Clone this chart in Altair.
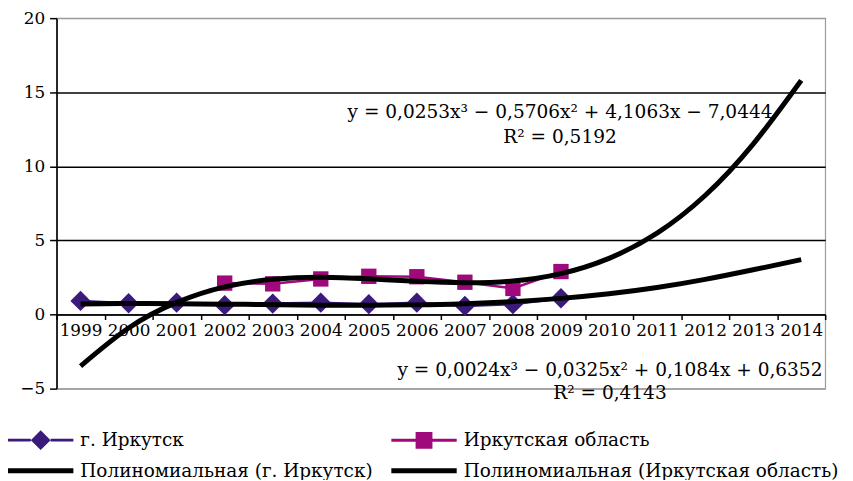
import altair as alt
import pandas as pd

# ---- data ----
trend_years = list(range(1999, 2015))
city_years = list(range(1999, 2010))
city_values = [0.92, 0.76, 0.80, 0.63, 0.74, 0.80, 0.70, 0.80, 0.58, 0.70, 1.10]
oblast_years = list(range(2002, 2010))
oblast_values = [2.12, 2.07, 2.40, 2.58, 2.55, 2.18, 1.76, 2.90]
trend_city = [0.71, 0.74, 0.73, 0.70, 0.67, 0.63, 0.63, 0.65, 0.73, 0.87, 1.09, 1.40, 1.82, 2.37, 3.02, 3.70]
trend_oblast = [-3.48, -0.91, 0.82, 1.87, 2.38, 2.52, 2.41, 2.24, 2.14, 2.26, 2.76, 3.79, 5.49, 8.03, 11.50, 15.80]
# legend order (column-major: first column, then second column)
series_names = ["г. Иркутск", "Полиномиальная (г. Иркутск)",
                "Иркутская область", "Полиномиальная (Иркутская область)"]
y_ticks = [-5, 0, 5, 10, 15, 20]
ann_texts = ["y = 0,0253x³ − 0,5706x² + 4,1063x − 7,0444", "R² = 0,5192",
             "y = 0,0024x³ − 0,0325x² + 0,1084x + 0,6352", "R² = 0,4143"]
ann_x = [2008.98, 2008.98, 2010.02, 2010.02]
ann_y = [13.65, 11.95, -3.75, -5.3]

# ---- styles ----
C_CITY = "#3b1a7c"
C_OBL = "#a0097c"
FONT = "DejaVu Serif"
series_colors = [C_CITY, "black", C_OBL, "black"]
# legend glyphs: unit = sqrt(symbolSize)/2 px; they reach right of the nominal symbol box
series_shapes = [
    "M-1,-0.15H1.3V0.15H-1Z M3.3,-0.15H5.6V0.15H3.3Z M1.3,0L2.3,-1L3.3,0L2.3,1Z",
    "M-1,-0.25H5.6V0.25H-1Z",
    "M-1,-0.15H1.45V0.15H-1Z M3.15,-0.15H5.6V0.15H3.15Z M1.45,-0.85H3.15V0.85H1.45Z",
    "M-1,-0.25H5.6V0.25H-1Z",
]

city_df = pd.DataFrame({"year": city_years, "value": city_values})
obl_df = pd.DataFrame({"year": oblast_years, "value": oblast_values})
tr_city_df = pd.DataFrame({"year": trend_years, "value": trend_city})
tr_obl_df = pd.DataFrame({"year": trend_years, "value": trend_oblast})
ann_df = pd.DataFrame({"year": ann_x, "value": ann_y, "label": ann_texts})
leg_df = pd.DataFrame({"series": series_names})

W, H = 776, 374
xvals = [1998.5 + i for i in range(17)]

X = alt.X("year:Q", scale=alt.Scale(domain=[1998.5, 2014.5], nice=False, zero=False),
          axis=alt.Axis(values=xvals, title=None, grid=False, offset=-H * 5 / 25,
                        labelExpr="datum.value < 2014 ? '' + (datum.value + 0.5) : ''",
                        labelOffset=W / 16 / 2, labelFlush=False, labelOverlap=False,
                        labelFont=FONT, labelFontSize=17, labelColor="black", labelPadding=3,
                        tickSize=5, tickColor="black", tickWidth=1.5,
                        domainColor="black", domainWidth=1.5))
Y = alt.Y("value:Q", scale=alt.Scale(domain=[-5, 20], nice=False, zero=False),
          axis=alt.Axis(values=y_ticks, title=None, grid=True,
                        gridColor={"condition": {"test": "datum.value === 20 || datum.value === -5",
                                                 "value": "#9a9a9a"}, "value": "black"},
                        gridWidth=1.4, labelFont=FONT, labelFontSize=17, labelColor="black",
                        labelPadding=5, tickSize=7, tickColor="black", tickWidth=1.5,
                        domainColor="black", domainWidth=1.6))

city_line = alt.Chart(city_df).mark_line(color=C_CITY, strokeWidth=2.5).encode(x=X, y=Y)
obl_line = alt.Chart(obl_df).mark_line(color=C_OBL, strokeWidth=2.5).encode(x=X, y=Y)
city_pts = alt.Chart(city_df).mark_point(shape="diamond", filled=True, color=C_CITY,
                                         size=420, opacity=1).encode(x=X, y=Y)
obl_pts = alt.Chart(obl_df).mark_point(shape="square", filled=True, color=C_OBL,
                                       size=240, opacity=1).encode(x=X, y=Y)
tr_city = alt.Chart(tr_city_df).mark_line(color="black", strokeWidth=5,
                                          interpolate="natural").encode(x=X, y=Y)
tr_obl = alt.Chart(tr_obl_df).mark_line(color="black", strokeWidth=5,
                                        interpolate="natural").encode(x=X, y=Y)
ann = alt.Chart(ann_df).mark_text(font=FONT, fontSize=18.7, color="black",
                                  align="center", baseline="middle").encode(
    x=X, y=Y, text="label:N")

leg = alt.Legend(title=None, orient="none", legendX=-49, legendY=416, columns=2,
                 columnPadding=18, rowPadding=11, symbolSize=400, symbolStrokeWidth=0,
                 symbolOpacity=1, labelFont=FONT, labelFontSize=18.6, labelColor="black",
                 labelOffset=53, labelLimit=0)
legend_layer = alt.Chart(leg_df).mark_point(filled=True, opacity=1).encode(
    color=alt.Color("series:N", scale=alt.Scale(domain=series_names, range=series_colors), legend=leg),
    shape=alt.Shape("series:N", scale=alt.Scale(domain=series_names, range=series_shapes), legend=leg),
).transform_filter("false")

chart = alt.layer(city_line, obl_line, city_pts, obl_pts, tr_city, tr_obl, ann, legend_layer).properties(
    width=W, height=H, autosize="none",
    padding={"left": 49, "top": 8, "right": 20, "bottom": 90},
).configure_view(stroke="#9a9a9a", strokeWidth=1.2)

chart.save("out.html", embed_options={"renderer": "svg", "actions": False})
